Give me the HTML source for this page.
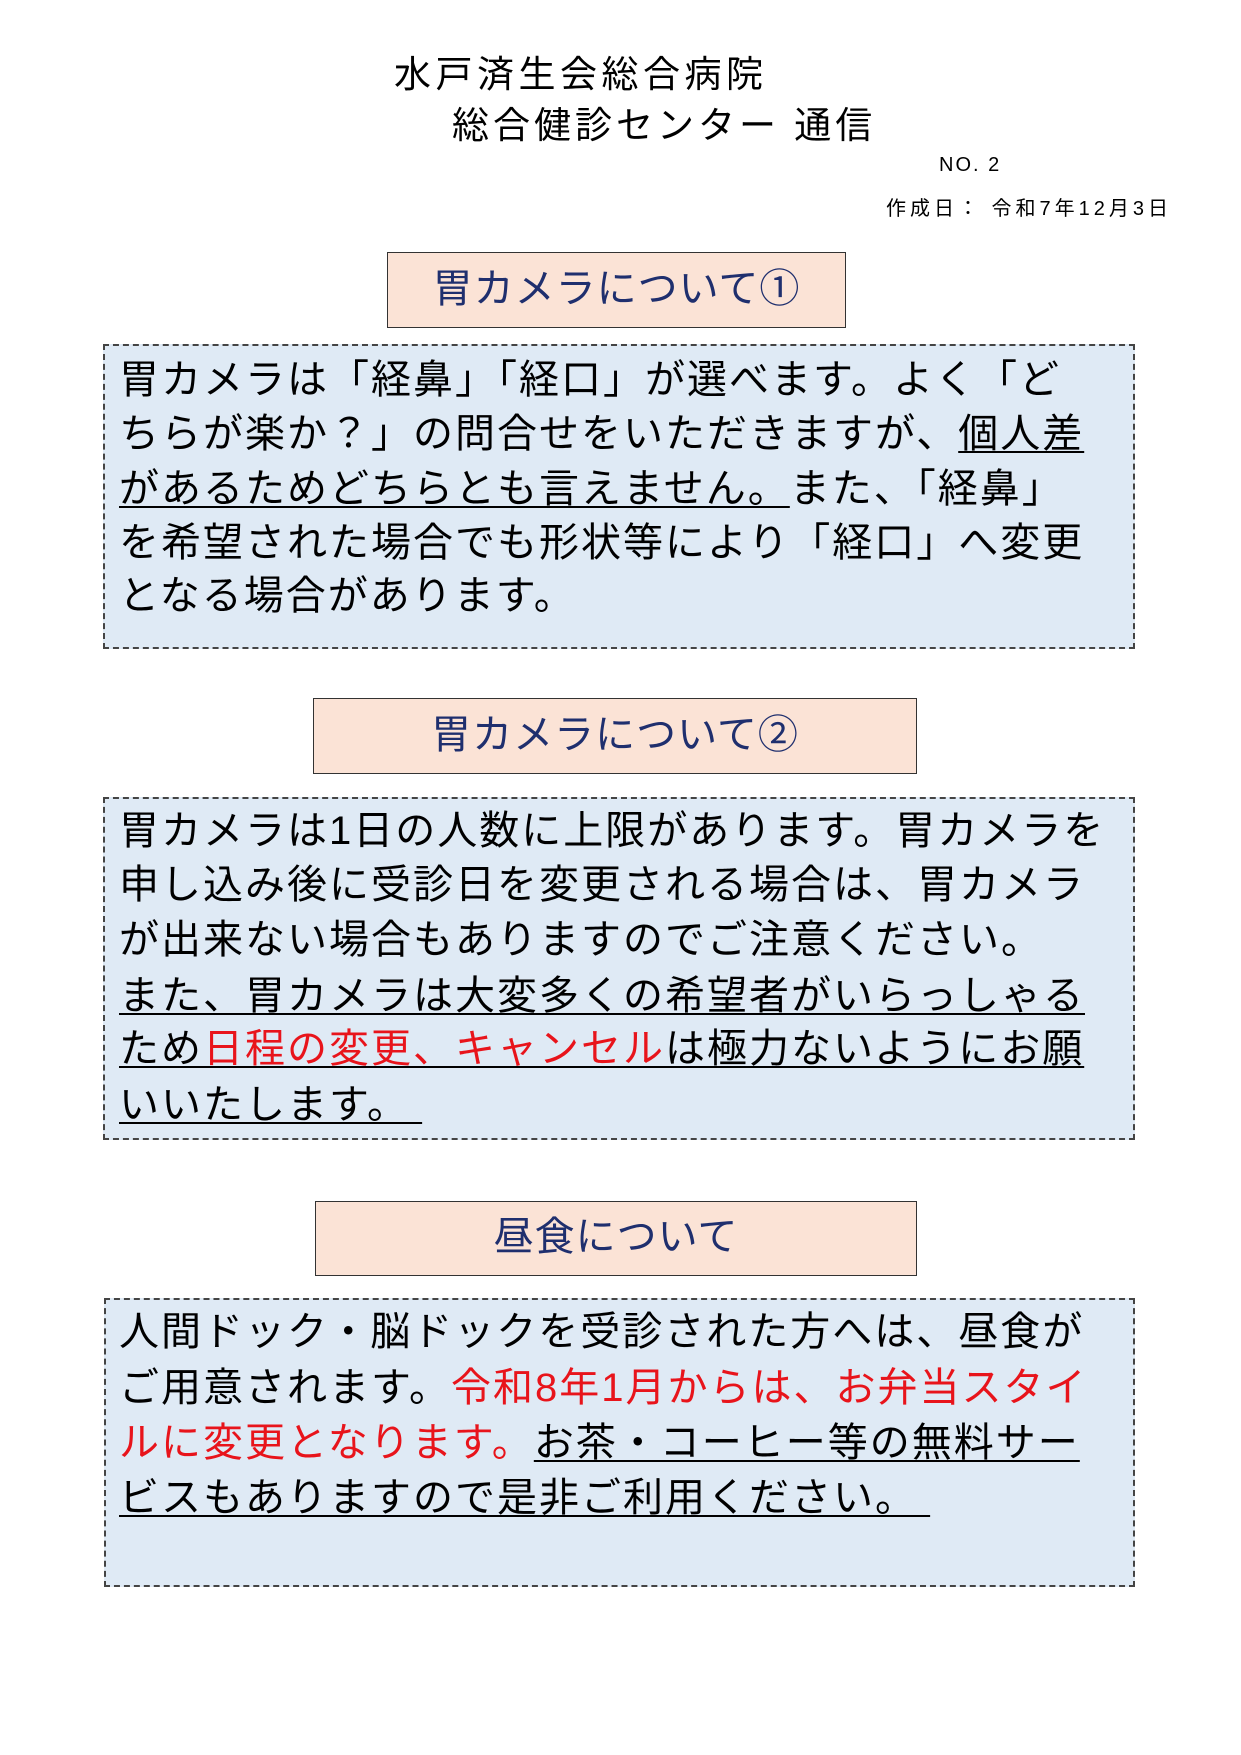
<!DOCTYPE html>
<html><head><meta charset="utf-8"><style>
body{margin:0;width:1241px;height:1755px;background:#fff;position:relative;font-family:"Liberation Sans","Noto Sans CJK JP",sans-serif;overflow:hidden}
.a{position:absolute;white-space:nowrap}
.h{position:absolute;background:#fbe3d6;border:1.5px solid #333;color:#1f2f6e;font-size:40px;letter-spacing:1px;text-align:center;box-sizing:border-box}
.d{position:absolute;background:#dfeaf5;border:2px dashed #444;box-sizing:border-box}
.l{position:absolute;left:119px;font-size:40px;line-height:54px;white-space:nowrap;color:#000;letter-spacing:2px}
u{text-decoration-thickness:2px;text-underline-offset:4px}
.r{color:#e8141b}
</style></head><body>
<div class="a" style="left:394px;top:44px;font-size:37px;letter-spacing:4.5px">水戸済生会総合病院</div>
<div class="a" style="left:452px;top:95px;font-size:37px;letter-spacing:4px">総合健診センター 通信</div>
<div class="a" style="left:939px;top:154px;font-size:20px;letter-spacing:2px">NO. 2</div>
<div class="a" style="left:886px;top:192px;font-size:20px;letter-spacing:4px">作成日：&nbsp;令和7年12月3日</div>

<div class="h" style="left:387px;top:252px;width:459px;height:76px;line-height:72px">胃カメラについて①</div>
<div class="d" style="left:103px;top:344px;width:1032px;height:305px"></div>
<div class="l" style="top:353px">胃カメラは「経鼻」「経口」が選べます。よく「ど</div>
<div class="l" style="top:407px">ちらが楽か？」の問合せをいただきますが、<u>個人差</u></div>
<div class="l" style="top:462px"><u>があるためどちらとも言えません。</u>また、「経鼻」</div>
<div class="l" style="top:516px">を希望された場合でも形状等により「経口」へ変更</div>
<div class="l" style="top:569px">となる場合があります。</div>

<div class="h" style="left:313px;top:698px;width:604px;height:76px;line-height:72px">胃カメラについて②</div>
<div class="d" style="left:103px;top:797px;width:1032px;height:343px"></div>
<div class="l" style="top:804px">胃カメラは1日の人数に上限があります。胃カメラを</div>
<div class="l" style="top:858px">申し込み後に受診日を変更される場合は、胃カメラ</div>
<div class="l" style="top:913px">が出来ない場合もありますのでご注意ください。</div>
<div class="l" style="top:969px"><u>また、胃カメラは大変多くの希望者がいらっしゃる</u></div>
<div class="l" style="top:1022px"><u>ため<span class="r">日程の変更、キャンセル</span>は極力ないようにお願</u></div>
<div class="l" style="top:1078px"><u>いいたします。&nbsp;</u></div>

<div class="h" style="left:315px;top:1201px;width:602px;height:75px;line-height:71px">昼食について</div>
<div class="d" style="left:104px;top:1298px;width:1031px;height:289px"></div>
<div class="l" style="top:1305px">人間ドック・脳ドックを受診された方へは、昼食が</div>
<div class="l" style="top:1361px">ご用意されます。<span class="r">令和8年1月からは、お弁当スタイ</span></div>
<div class="l" style="top:1416px"><span class="r">ルに変更となります。</span><u>お茶・コーヒー等の無料サー</u></div>
<div class="l" style="top:1471px"><u>ビスもありますので是非ご利用ください。&nbsp;</u></div>
</body></html>
